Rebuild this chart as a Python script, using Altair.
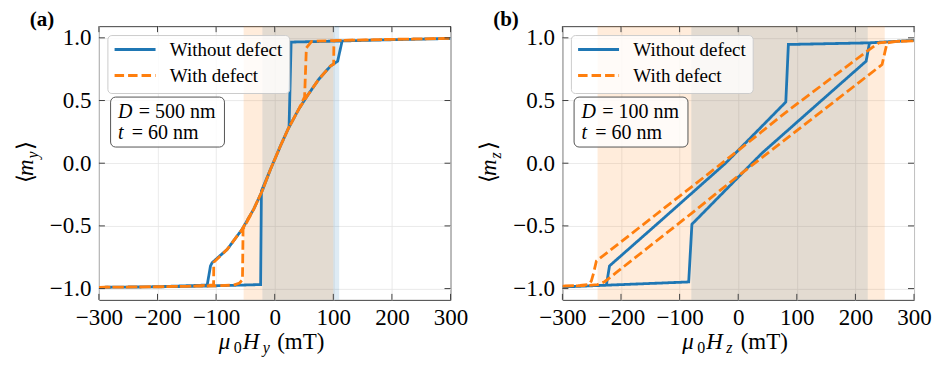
import altair as alt
import pandas as pd

# ---------------- data ----------------
SERIES = ["Without defect", "With defect"]
COLORS = ["#1f77b4", "#ff7f0e"]
DASHES = [[1, 0], [9.5, 4]]

x_ticks = [-300, -200, -100, 0, 100, 200, 300]
y_ticks = [-1.0, -0.5, 0.0, 0.5, 1.0]

# Panel (a): <m_y> vs mu0 H_y  (up sweep followed by down sweep)
a_wo_H = [-300, -200, -120, -24, -22.7, -7.3, 9.7, 24.5, 28, 115, 200, 300,
          300, 200, 115, 107.4, 95, 75, 55.2, 40.9, 23.9, 9.7, -7.3, -21.5,
          -35.8, -55.6, -81, -106.7, -109.6, -115.2, -200, -300]
a_wo_m = [-0.99, -0.986, -0.98, -0.968, -0.222, -0.05, 0.137, 0.29, 0.966, 0.975, 0.985, 0.995,
          0.995, 0.985, 0.975, 0.814, 0.774, 0.668, 0.535, 0.43, 0.283, 0.137, -0.05, -0.222,
          -0.366, -0.527, -0.687, -0.793, -0.819, -0.972, -0.985, -0.99]
a_w_H = [-300, -200, -100, -70, -60, -55, -54, -35.8, -21.5, -7.3, 9.7, 23.9, 40.9, 51, 54, 63,
         100, 200, 300,
         300, 200, 101, 100.6, 95, 75, 55.2, 40.9, 23.9, 9.7, -7.3, -21.5, -35.8, -55.6, -81,
         -104, -104.3, -150, -300]
a_w_m = [-0.99, -0.986, -0.978, -0.972, -0.955, -0.93, -0.527, -0.366, -0.222, -0.05, 0.137,
         0.283, 0.43, 0.53, 0.92, 0.972, 0.978, 0.988, 0.995,
         0.995, 0.988, 0.978, 0.79, 0.774, 0.668, 0.535, 0.43, 0.283, 0.137, -0.05, -0.222,
         -0.366, -0.527, -0.687, -0.79, -0.97, -0.982, -0.99]
a_span_wo = [-21, 110]
a_span_w = [-53, 100]

# Panel (b): <m_z> vs mu0 H_z
b_wo_H = [-300, -225, -84.5, -79, 24.4, 41.4, 130, 218.3, 224, 300,
          300, 224, 85.6, 81.2, -3.9, -21.6, -130, -219.6, -225, -300]
b_wo_m = [-0.987, -0.973, -0.947, -0.487, 0.004, 0.084, 0.45, 0.814, 0.96, 0.98,
          0.98, 0.96, 0.947, 0.488, 0.084, 0.0, -0.45, -0.819, -0.973, -0.987]
b_w_H = [-300, -260, -240, -228, -78, -4, 245.5, 250, 254, 270, 300,
         300, 270, 240, 220, 78, 4, -242, -247, -250.7, -255, -270, -300]
b_w_m = [-0.98, -0.977, -0.968, -0.945, -0.394, -0.116, 0.787, 0.88, 0.96, 0.972, 0.975,
         0.975, 0.972, 0.96, 0.894, 0.394, 0.116, -0.78, -0.88, -0.94, -0.967, -0.975, -0.98]
b_span_wo = [-80, 221]
b_span_w = [-240, 250]

# ---------------- style ----------------
W, H = 352, 274
FONT = "Liberation Serif"
INK = "#404040"
TICK = 6

xs = alt.Scale(domain=[-300, 300], nice=False, zero=False)
ys = alt.Scale(domain=[-1.09, 1.093], nice=False, zero=False)


def xaxis():
    return alt.Axis(values=x_ticks, format="d", title=None, ticks=False, tickSize=0,
                    domain=False, grid=True, gridColor="#e4e4e4", gridWidth=0.8,
                    labelFont=FONT, labelFontSize=23, labelColor="black", labelPadding=7,
                    labelFlush=False, labelOverlap=False)


def yaxis():
    return alt.Axis(values=y_ticks, format=".1f", title=None, ticks=False, tickSize=0,
                    domain=False, grid=True, gridColor="#e4e4e4", gridWidth=0.8,
                    labelFont=FONT, labelFontSize=23, labelColor="black", labelPadding=8,
                    labelFlush=False, labelOverlap=False)


dummy = pd.DataFrame({"k": [0]})


def txt(s, x, y, size, align="left", style="normal", weight="normal", angle=0):
    return alt.Chart(dummy).mark_text(
        text=s, font=FONT, fontSize=size, color="black", align=align,
        baseline="alphabetic", fontStyle=style, fontWeight=weight, angle=angle
    ).encode(x=alt.value(x), y=alt.value(y))


def span(rng, color):
    df = pd.DataFrame({"s": [rng[0]], "e": [rng[1]]})
    return alt.Chart(df).mark_rect(color=color, opacity=0.15).encode(
        x=alt.X("s:Q", scale=xs, axis=xaxis()), x2="e:Q",
        y=alt.value(0), y2=alt.value(H))


def line(Hv, mv, k):
    df = pd.DataFrame({"H": Hv, "m": mv, "series": SERIES[k], "i": list(range(len(Hv)))})
    return alt.Chart(df).mark_line(
        strokeWidth=2.8, clip=True, color=COLORS[k], strokeDash=DASHES[k]
    ).encode(
        x=alt.X("H:Q", scale=xs, axis=xaxis()),
        y=alt.Y("m:Q", scale=ys, axis=yaxis()),
        detail="series:N",
        order="i:Q")


def legend_layers():
    box = alt.Chart(dummy).mark_rect(
        cornerRadius=4, fill="white", fillOpacity=0.8, stroke="#cccccc", strokeWidth=1
    ).encode(x=alt.value(9), x2=alt.value(191), y=alt.value(9.4), y2=alt.value(67.4))
    out = [box]
    for k, yc in enumerate([23.4, 49.4]):
        out.append(alt.Chart(dummy).mark_rule(
            color=COLORS[k], strokeWidth=3, strokeDash=DASHES[k]
        ).encode(x=alt.value(15.7), x2=alt.value(56.7), y=alt.value(yc)))
        out.append(txt(SERIES[k], 71, yc + 6.6, 19))
    return out


def ticks():
    dx = pd.DataFrame({"v": x_ticks})
    dy = pd.DataFrame({"v": y_ticks})
    r = dict(color=INK, strokeWidth=1)
    bx = alt.Chart(dx).mark_rule(**r).encode(
        x=alt.X("v:Q", scale=xs, axis=xaxis()), y=alt.value(H), y2=alt.value(H - TICK))
    tx = alt.Chart(dx).mark_rule(**r).encode(
        x=alt.X("v:Q", scale=xs, axis=xaxis()), y=alt.value(0), y2=alt.value(TICK))
    ly = alt.Chart(dy).mark_rule(**r).encode(
        y=alt.Y("v:Q", scale=ys, axis=yaxis()), x=alt.value(0), x2=alt.value(TICK))
    ry = alt.Chart(dy).mark_rule(**r).encode(
        y=alt.Y("v:Q", scale=ys, axis=yaxis()), x=alt.value(W), x2=alt.value(W - TICK))
    return [bx, tx, ly, ry]


def panel(tag, comp, dval, wo_H, wo_m, w_H, w_m, sp_wo, sp_w):
    box = alt.Chart(dummy).mark_rect(
        cornerRadius=5, fill="white", fillOpacity=0.8, stroke="#555555", strokeWidth=1
    ).encode(x=alt.value(11.7), x2=alt.value(125.7), y=alt.value(71), y2=alt.value(121))
    layers = [
        span(sp_wo, COLORS[0]),
        span(sp_w, COLORS[1]),
        line(wo_H, wo_m, 0),
        line(w_H, w_m, 1),
    ] + legend_layers() + [
        box,
        txt("D", 19, 91.5, 20, style="italic"),
        txt("= " + dval + " nm", 40, 91.5, 20),
        txt("t", 19, 113, 20, style="italic"),
        txt("= 60 nm", 33, 113, 20),
        # panel label
        txt(tag, -69.3, 0, 21, weight="bold"),
        # x title: mu_0 H_comp (mT)
        txt("\u03bc", 120.0, H + 49.5, 23, style="italic"),
        txt("0", 135.0, H + 53.5, 16),
        txt("H", 144.0, H + 49.5, 23, style="italic"),
        txt(comp, 164.0, H + 53.5, 16, style="italic"),
        txt("(mT)", 178.5, H + 49.5, 23),
        # y title: <m_comp>
        txt("\u27e8", -66, 157, 23, angle=270),
        txt("m", -66, 150, 23, style="italic", angle=270),
        txt(comp, -61, 132.5, 16, style="italic", angle=270),
        txt("\u27e9", -66, 124, 23, angle=270),
    ] + ticks()
    return alt.layer(*layers).properties(width=W, height=H)


pa = panel("(a)", "y", "500", a_wo_H, a_wo_m, a_w_H, a_w_m, a_span_wo, a_span_w)
pb = panel("(b)", "z", "100", b_wo_H, b_wo_m, b_w_H, b_w_m, b_span_wo, b_span_w)

chart = alt.hconcat(pa, pb, spacing=112, bounds="flush").properties(
    padding={"left": 6, "top": 0, "right": 5, "bottom": 2}
).configure_view(stroke=INK, strokeWidth=1)

chart.save("out.html", embed_options={"renderer": "svg", "actions": False})
